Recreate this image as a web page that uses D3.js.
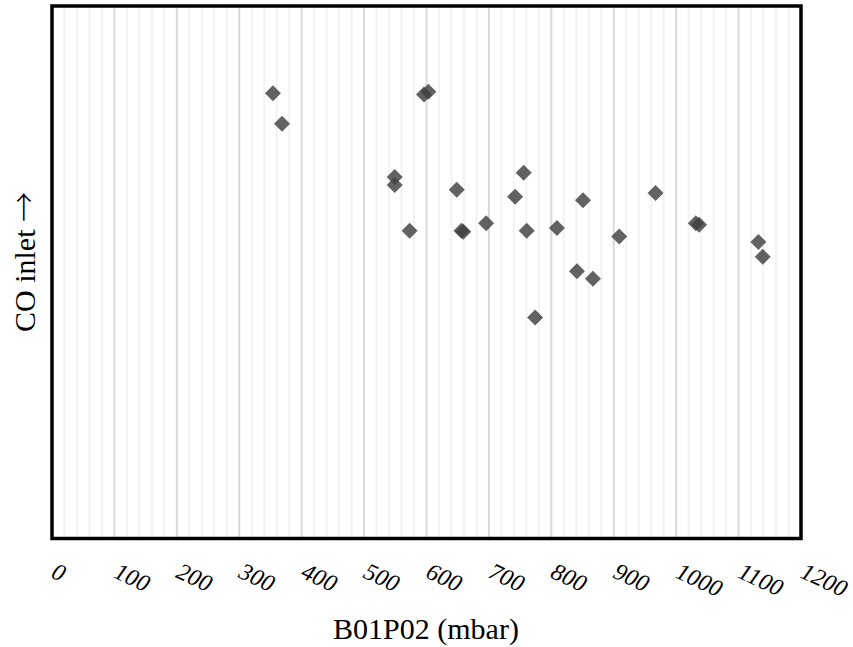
<!DOCTYPE html>
<html>
<head>
<meta charset="utf-8">
<script src="https://cdn.jsdelivr.net/npm/d3@7"></script>
<style>
  body { margin: 0; background: #fff; }
  svg { display: block; }
  text { font-family: 'Liberation Serif', 'DejaVu Serif', serif; }
</style>
</head>
<body>
<div id="chart"></div>
<script>
// pressure readings (mbar) and CO inlet (no scale shown, relative units)
const pressure = [354, 368.5, 596, 603, 549, 549, 648.5, 755.7, 742, 573, 656, 659, 695.5,
                  760.5, 774, 809, 850.7, 841, 866.7, 908.8, 967, 1031.5, 1036.8, 1131.7, 1138.7]
const coInlet = [83.6, 77.9, 83.4, 83.9, 67.9, 66.4, 65.5, 68.7, 64.2, 57.8, 57.8, 57.6, 59.2,
                 57.8, 41.5, 58.3, 63.5, 50.2, 48.8, 56.7, 64.9, 59.2, 58.9, 55.7, 52.9]
const xTicks = [0, 100, 200, 300, 400, 500, 600, 700, 800, 900, 1000, 1100, 1200]

const width = 853, height = 647
const plotLeft = 52, plotRight = 801, plotTop = 6, plotBottom = 538.5

const svg = d3.select('#chart')
    .append('svg')
    .attr('width', width)
    .attr('height', height)

const x = d3.scaleLinear().domain([0, 1200]).range([plotLeft, plotRight])
const y = d3.scaleLinear().domain([0, 100]).range([plotBottom, plotTop])

// minor grid every 20
const minor = d3.range(20, 1200, 20).filter(v => v % 100 !== 0)
svg.append('g')
    .selectAll('line')
    .data(minor)
    .enter()
    .append('line')
    .attr('x1', d => x(d))
    .attr('x2', d => x(d))
    .attr('y1', plotTop)
    .attr('y2', plotBottom)
    .attr('stroke', '#f2f2f2')
    .attr('stroke-width', 2)

// major grid every 100
svg.append('g')
    .selectAll('line')
    .data(xTicks.slice(1, -1))
    .enter()
    .append('line')
    .attr('x1', d => x(d))
    .attr('x2', d => x(d))
    .attr('y1', plotTop)
    .attr('y2', plotBottom)
    .attr('stroke', '#d9d9d9')
    .attr('stroke-width', 2)

// points
svg.append('g')
    .selectAll('path')
    .data(pressure)
    .enter()
    .append('path')
    .attr('d', 'M0 -8 L8 0 L0 8 L-8 0 Z')
    .attr('transform', (d, i) => `translate(${x(d)} ${y(coInlet[i])})`)
    .attr('fill', '#404040')
    .attr('fill-opacity', 0.82)

// frame
svg.append('rect')
    .attr('x', plotLeft)
    .attr('y', plotTop)
    .attr('width', plotRight - plotLeft)
    .attr('height', plotBottom - plotTop)
    .attr('fill', 'none')
    .attr('stroke', 'black')
    .attr('stroke-width', 3.5)

// tick labels, tilted
svg.append('g')
    .selectAll('text')
    .data(xTicks)
    .enter()
    .append('text')
    .text(d => d)
    .attr('transform', d => `translate(${x(d) - 2} 577) rotate(25)`)
    .attr('font-style', 'italic')
    .attr('font-size', 24)
    .attr('fill', 'black')

svg.append('text')
    .text('B01P02 (mbar)')
    .attr('x', 426)
    .attr('y', 639)
    .attr('text-anchor', 'middle')
    .attr('font-size', 30)
    .attr('fill', 'black')

const yTitle = svg.append('text')
    .attr('transform', 'translate(35 262) rotate(-90)')
    .attr('text-anchor', 'middle')
    .attr('font-size', 30)
    .attr('fill', 'black')
yTitle.append('tspan').text('CO inlet ')
yTitle.append('tspan')
    .text('\u2192')
    .style('font-family', '"Noto Sans CJK JP", "DejaVu Sans", sans-serif')
    .attr('font-weight', 300)
</script>
</body>
</html>
